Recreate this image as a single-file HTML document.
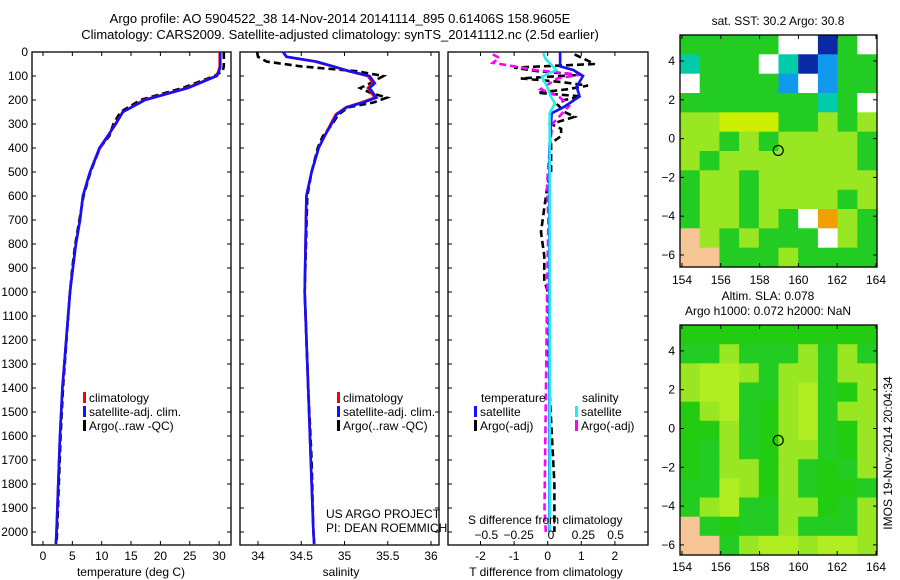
<!DOCTYPE html>
<html><head><meta charset="utf-8"><style>
body{margin:0;background:#fff;width:900px;height:580px;overflow:hidden;font-family:"Liberation Sans",sans-serif}
svg{display:block}
text{font-family:"Liberation Sans",sans-serif;font-size:12px;fill:#000}
</style></head><body>
<svg id="fig" width="900" height="580" viewBox="0 0 900 580">
<text x="340" y="23" text-anchor="middle" style="font-size:13px">Argo profile: AO 5904522_38 14-Nov-2014 20141114_895 0.61406S 158.9605E</text>
<text x="340" y="39" text-anchor="middle" style="font-size:13px">Climatology: CARS2009. Satellite-adjusted climatology: synTS_20141112.nc (2.5d earlier)</text>
<text x="778" y="25" text-anchor="middle">sat. SST: 30.2  Argo: 30.8</text>
<text x="768" y="300" text-anchor="middle">Altim. SLA: 0.078</text>
<text x="768" y="315" text-anchor="middle">Argo h1000: 0.072 h2000: NaN</text>
<text transform="translate(892,453) rotate(-90)" text-anchor="middle">IMOS 19-Nov-2014 20:04:34</text>
<g id="g1"></g>
<g id="g2"></g>
<g id="g3"></g>
<g id="m1"></g>
<g id="m2"></g>
</svg>
<script>
// ---- data ----
const depthTicks=[0,100,200,300,400,500,600,700,800,900,1000,1100,1200,1300,1400,1500,1600,1700,1800,1900,2000];
const tempTicks=[0,5,10,15,20,25,30];
const salTicks=[34,34.5,35,35.5,36];
const tdiffTicks=[-2,-1,0,1,2];
const sdiffTicks=[-0.5,-0.25,0,0.25,0.5];
const lonTicks=[154,156,158,160,162,164];
const latTicks=[4,2,0,-2,-4,-6];

const climDepth=[0,60,80,100,150,200,250,300,350,400,500,600,700,800,900,1000,1400,1600,2000,2050];
const climTemp=[30.1,30.1,29.9,29.5,24.5,17.2,13.6,12.3,11.1,9.7,8.0,6.8,6.3,5.6,5.1,4.6,3.3,2.9,2.3,2.2];
const satTemp=[30.2,30.2,30.0,29.6,24.7,17.4,13.6,12.4,11.0,9.6,8.0,6.8,6.3,5.6,5.1,4.6,3.3,2.9,2.3,2.2];
const argoTemp=[30.8,30.8,30.6,29.2,23.8,16.6,13.2,12.0,11.3,9.7,8.1,6.9,6.2,5.5,5.0,4.6,3.4,3.0,2.4,2.3];

const salDepth=[0,20,40,60,80,100,130,150,170,190,210,230,260,300,350,400,500,600,1000,1400,1700,2000,2050];
const climSal=[34.29,34.33,34.66,34.86,35.05,35.27,35.33,35.27,35.31,35.35,35.2,35.02,34.9,34.84,34.77,34.7,34.62,34.56,34.54,34.58,34.61,34.64,34.65];
const satSal=[34.29,34.33,34.68,34.87,35.06,35.29,35.35,35.29,35.33,35.37,35.22,35.03,34.91,34.85,34.77,34.7,34.62,34.56,34.54,34.58,34.61,34.64,34.65];
const argoSal=[33.99,34.0,34.1,34.5,35.14,35.45,35.3,35.18,35.3,35.49,35.34,35.05,34.93,34.86,34.75,34.69,34.62,34.57,34.54,34.58,34.62,34.64,34.65];

const tdDepth=[10,30,50,65,80,95,110,125,140,155,170,185,200,220,250,270,300,320,350,380,420,500,550,650,750,850,950,1000,1400,1800,2000];
const argoTdiff=[0.8,1.1,1.4,-1.0,-0.3,1.0,-0.8,0.4,1.2,0.6,-0.3,1.0,0.5,0.3,0.5,0.8,0.1,0.4,0.4,0.1,0.1,0.1,0,-0.1,-0.2,-0.1,-0.1,0,0.05,0.2,0.2];
const satDepth=[0,60,75,100,145,185,230,255,400,2000];
const satTdiff=[0.37,0.37,0.76,1.05,0.86,0.95,0.47,0.12,0.05,0.05];
const cyDepth=[5,30,75,103,145,186,214,256,400,2000];
const satSdiff=[-0.06,-0.04,0.04,-0.07,-0.03,0,0.03,-0.01,-0.01,-0.01];
const mgDepth=[10,25,45,75,95,110,155,185,225,300,400,550,700,1000,1900,2000];
const argoSdiff=[-0.45,-0.4,-0.45,-0.12,0.22,0.05,-0.08,0.06,0.14,0.01,-0.01,-0.03,-0.02,-0.03,-0.05,-0.04];

const sstGrid=["gggggwwdgw","cgggwcdbgg","wggggbwbgg","gggggggcgw","llyyygglgl","llglgllllg","lglllllllg","gllgllllll","gllgllllgl","gllglgwolg","slglgggwlg","ssggglgggg"];
const slaGrid=["GGGGGGGGGG","gglggglglg","lLLlgllgll","lLLgglLgGl","GlLgGlLgll","GGlgGlLgGl","GglgGllgGl","GgllGlgGgl","ggLlGlgGGg","glLggllGgl","sgGgglgggl","ssglLLlLLl"];
const argoLon=158.96, argoLat=-0.61;

const cmap={g:"#22cc22",l:"#99e622",y:"#ccee00",w:"#ffffff",b:"#1199ee",d:"#0a2aa5",c:"#00ccaa",o:"#f0a000",s:"#f5c595",G:"#22cc11",L:"#b0ee22"};

// ---- helpers ----
const NS="http://www.w3.org/2000/svg";
function mk(p,tag,at){const e=document.createElementNS(NS,tag);for(const k in at)e.setAttribute(k,at[k]);p.appendChild(e);return e;}
const Y0=52,Y1=545,dy=d=>Y0+d*0.24;

function frame(g,x0,x1,y0,y1){
  const r=mk(g,'rect',{x:x0,y:y0,width:x1-x0,height:y1-y0,fill:'none',stroke:'#000','stroke-width':1.3});
  
  
}
function depthAxis(g,x0,x1,labels){
  depthTicks.forEach(d=>{
    mk(g,'line',{x1:x0,x2:x0+4,y1:dy(d),y2:dy(d),stroke:'#000'});
    mk(g,'line',{x1:x1,x2:x1-4,y1:dy(d),y2:dy(d),stroke:'#000'});
    if(labels){const t=mk(g,'text',{x:x0-4,y:dy(d)+4,'text-anchor':'end'});t.textContent=d;
      
      }
  });
}
function xAxis(g,ticks,fx,ly,fmt){
  ticks.forEach(v=>{
    mk(g,'line',{x1:fx(v),x2:fx(v),y1:Y1,y2:Y1-4,stroke:'#000'});
    mk(g,'line',{x1:fx(v),x2:fx(v),y1:Y0,y2:Y0+4,stroke:'#000'});
    const t=mk(g,'text',{x:fx(v),y:ly,'text-anchor':'middle'});t.textContent=fmt?fmt(v):v;
    
    
  });
}
function line(g,xs,ds,fx,color,dash,name){
  const pts=xs.map((v,i)=>fx(v).toFixed(1)+','+dy(ds[i]).toFixed(1)).join(' ');
  const p=mk(g,'polyline',{points:pts,fill:'none',stroke:color,'stroke-width':2.6,'stroke-dasharray':dash||'none'});
  
  
}
function txt(g,x,y,s,name,anchor){const t=mk(g,'text',{x:x,y:y,'text-anchor':anchor||'start'});t.textContent=s;
  
  return t;}
function legItem(g,x,y,color,label){
  const r=mk(g,'rect',{x:x,y:y-10,width:3,height:11,fill:color});
  
  
  txt(g,x+6,y,label,'legend-entry');
}

// ---- panel 1: temperature ----
const g1=document.getElementById('g1');
const fT=v=>43+v*5.87;
frame(g1,32,231,Y0,Y1);depthAxis(g1,32,231,true);xAxis(g1,tempTicks,fT,560);
line(g1,argoTemp,climDepth,fT,'#000','7,4','argo-temperature-line');
line(g1,climTemp,climDepth,fT,'#ff0000',null,'climatology-temperature-line');
line(g1,satTemp,climDepth,fT,'#1111ff',null,'satellite-temperature-line');
txt(g1,131,576,'temperature (deg C)','x-axis-title','middle');
legItem(g1,83,402,'#ff0000','climatology');legItem(g1,83,416,'#1111ff','satellite-adj. clim.');legItem(g1,83,430,'#000','Argo(..raw -QC)');

// ---- panel 2: salinity ----
const g2=document.getElementById('g2');
const fS=v=>258+(v-34)*86.5;
frame(g2,240,439,Y0,Y1);depthAxis(g2,240,439,false);xAxis(g2,salTicks,fS,560);
line(g2,argoSal,salDepth,fS,'#000','7,4','argo-salinity-line');
line(g2,climSal,salDepth,fS,'#ff0000',null,'climatology-salinity-line');
line(g2,satSal,salDepth,fS,'#1111ff',null,'satellite-salinity-line');
txt(g2,341,576,'salinity','x-axis-title','middle');
legItem(g2,337,402,'#ff0000','climatology');legItem(g2,337,416,'#1111ff','satellite-adj. clim.');legItem(g2,337,430,'#000','Argo(..raw -QC)');
txt(g2,326,518,'US ARGO PROJECT','project-credit');txt(g2,326,532,'PI: DEAN ROEMMICH','pi-credit');

// ---- panel 3: differences ----
const g3=document.getElementById('g3');
const fTd=v=>547.7+v*33.6, fSd=v=>551+v*129.3;
frame(g3,448,648,Y0,Y1);depthAxis(g3,448,648,false);xAxis(g3,tdiffTicks,fTd,560);
line(g3,argoTdiff,tdDepth,fTd,'#000','7,4','argo-temperature-diff-line');
line(g3,argoSdiff,mgDepth,fSd,'#ff00ff','7,4','argo-salinity-diff-line');
line(g3,satTdiff,satDepth,fTd,'#1111ff',null,'satellite-temperature-diff-line');
line(g3,satSdiff,cyDepth,fSd,'#22eeee',null,'satellite-salinity-diff-line');
sdiffTicks.forEach(v=>txt(g3,fSd(v),539,String(v).replace('-','\u2212'),'s-tick-label','middle'));
txt(g3,468,524,'S difference from climatology','s-axis-title');
txt(g3,546,576,'T difference from climatology','x-axis-title','middle');
txt(g3,481,402,'temperature','legend-title');txt(g3,582,402,'salinity','legend-title');
legItem(g3,474,416,'#1111ff','satellite');legItem(g3,474,430,'#000','Argo(-adj)');
legItem(g3,575,416,'#22eeee','satellite');legItem(g3,575,430,'#ff00ff','Argo(-adj)');

// ---- maps ----
function map(g,grid,x0,x1,y0,y1,lat0y,labY){
  const lx=v=>682+(v-154)*19.4, ly=v=>lat0y-v*19.4;
  const rows=grid.length, cols=grid[0].length, cw=(x1-x0)/cols, ch=(y1-y0)/rows;
  grid.forEach((row,r)=>{[...row].forEach((c,k)=>{
    const cell=mk(g,'rect',{x:(x0+k*cw).toFixed(1),y:(y0+r*ch).toFixed(1),width:(cw+0.6).toFixed(1),height:(ch+0.6).toFixed(1),fill:cmap[c]});
    
    
  });});
  frame(g,x0,x1,y0,y1);
  lonTicks.forEach(v=>{mk(g,'line',{x1:lx(v),x2:lx(v),y1:y1,y2:y1-4,stroke:'#000'});mk(g,'line',{x1:lx(v),x2:lx(v),y1:y0,y2:y0+4,stroke:'#000'});
    txt(g,lx(v),labY,v,'lon-tick-label','middle');});
  latTicks.forEach(v=>{mk(g,'line',{x1:x0,x2:x0+4,y1:ly(v),y2:ly(v),stroke:'#000'});mk(g,'line',{x1:x1,x2:x1-4,y1:ly(v),y2:ly(v),stroke:'#000'});
    txt(g,x0-5,ly(v)+4,String(v).replace('-','\u2212'),'lat-tick-label','end');});
  const c=mk(g,'circle',{cx:lx(argoLon),cy:ly(argoLat),r:5,fill:'none',stroke:'#000','stroke-width':1.2});
  
  
}
map(document.getElementById('m1'),sstGrid,680,877,35,267,138.6,284);
map(document.getElementById('m2'),slaGrid,680,877,325,555,428.5,571);
</script>
</body></html>
